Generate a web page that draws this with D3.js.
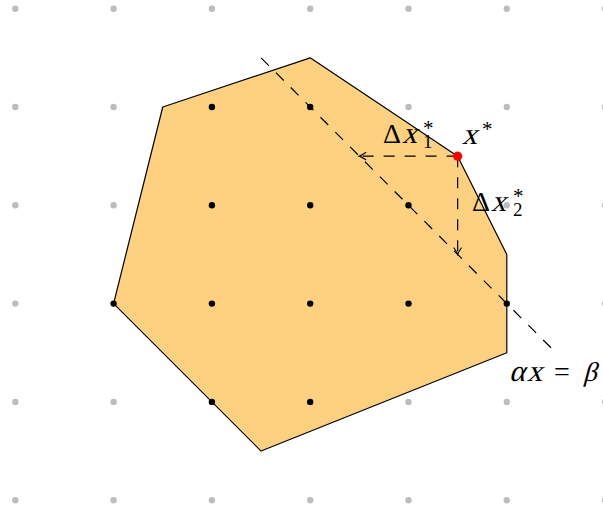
<!DOCTYPE html>
<html>
<head>
<meta charset="utf-8">
<script src="https://cdn.jsdelivr.net/npm/d3@7"></script>
<style>
  body { margin: 0; background: #fff; }
</style>
</head>
<body>
<div id="grafico"></div>
<script>
// Dados do desenho (em unidades da grade)
const gradeX = [0, 1, 2, 3, 4, 5, 6]
const gradeY = [0, 1, 2, 3, 4, 5]

// Vértices do poliedro
const poligonoX = [1.5, 3, 4.5, 5, 5, 2.5, 1]
const poligonoY = [4, 4.5, 3.5, 2.5, 1.5, 0.5, 2]

// Pontos inteiros dentro do poliedro
const inteirosX = [2, 3, 2, 3, 4, 1, 2, 3, 4, 5, 2, 3]
const inteirosY = [4, 4, 3, 3, 3, 2, 2, 2, 2, 2, 1, 1]

// Ótimo x* e reta alpha x = beta
const otimo = [4.5, 3.5]
const retaX = [2.5, 5.5]
const retaY = [4.5, 1.5]

// Setas delta x1 e delta x2
const seta1 = [[4.5, 3.5], [3.5, 3.5]]
const seta2 = [[4.5, 3.5], [4.5, 2.5]]

const width = 603, height = 510
const fonte = 'Liberation Serif'

const svg = d3.select('#grafico').append('svg')
    .attr('width', width)
    .attr('height', height)

// Escalas: uma unidade ~ 98.3 px
const x = d3.scaleLinear().domain([0, 6]).range([15.3, 15.3 + 6 * 98.3])
const y = d3.scaleLinear().domain([0, 5]).range([500.2, 8.7])

// Ponta de seta estilo "to" do TikZ
svg.append('defs').append('marker')
    .attr('id', 'ponta')
    .attr('viewBox', '-8 -5 10 10')
    .attr('refX', 0).attr('refY', 0)
    .attr('markerWidth', 10).attr('markerHeight', 10)
    .attr('markerUnits', 'userSpaceOnUse')
    .attr('orient', 'auto')
    .append('path')
    .attr('d', 'M-6.5,-3.6 Q-2,-0.6 0,0 Q-2,0.6 -6.5,3.6')
    .attr('fill', 'none')
    .attr('stroke', '#000')
    .attr('stroke-width', 1.1)
    .attr('stroke-linecap', 'round')

// Pontos cinzas da grade (os que não são inteiros viáveis)
const grade = []
gradeX.forEach(gx => gradeY.forEach(gy => {
    const viavel = inteirosX.some((ix, i) => ix === gx && inteirosY[i] === gy)
    if (!viavel) grade.push([gx, gy])
}))

svg.append('g').selectAll('circle')
    .data(grade)
    .join('circle')
    .attr('cx', d => x(d[0]))
    .attr('cy', d => y(d[1]))
    .attr('r', 3.2)
    .attr('fill', '#bdbdbd')

// Poliedro
const vertices = poligonoX.map((px, i) => [x(px), y(poligonoY[i])])
svg.append('path')
    .attr('d', d3.line()(vertices) + 'Z')
    .attr('fill', '#fdd17f')
    .attr('stroke', '#000')
    .attr('stroke-width', 1.2)
    .attr('stroke-linejoin', 'round')

// Reta tracejada
svg.append('line')
    .attr('x1', x(retaX[0])).attr('y1', y(retaY[0]))
    .attr('x2', x(retaX[1])).attr('y2', y(retaY[1]))
    .attr('stroke', '#000')
    .attr('stroke-width', 1.2)
    .attr('stroke-dasharray', '11,10')

// Setas tracejadas
;[seta1, seta2].forEach(s => {
    svg.append('line')
        .attr('x1', x(s[0][0])).attr('y1', y(s[0][1]))
        .attr('x2', x(s[1][0])).attr('y2', y(s[1][1]))
        .attr('stroke', '#000')
        .attr('stroke-width', 1.2)
        .attr('stroke-dasharray', '11,10')
        .attr('marker-end', 'url(#ponta)')
})

// Pontos inteiros
svg.append('g').selectAll('circle')
    .data(inteirosX)
    .join('circle')
    .attr('cx', d => x(d))
    .attr('cy', (d, i) => y(inteirosY[i]))
    .attr('r', 3.2)
    .attr('fill', '#000')

// Ponto ótimo
svg.append('circle')
    .attr('cx', x(otimo[0]))
    .attr('cy', y(otimo[1]))
    .attr('r', 4.6)
    .attr('fill', '#ff0000')

// Rótulos: cada pedaço posicionado à mão
// (itálico feito com skew, pois a fonte serifada itálica não existe aqui)
function texto(px, py, txt, tam, italico) {
    svg.append('text')
        .attr('transform', `translate(${px},${py})` + (italico ? ' skewX(-15)' : ''))
        .attr('font-family', fonte)
        .attr('font-size', tam)
        .attr('fill', '#000')
        .text(txt)
}

// Estrela em cima e índice embaixo, num só texto
function indices(px, py, sub) {
    const t = svg.append('text')
        .attr('transform', `translate(${px},${py})`)
        .attr('font-family', fonte)
        .attr('fill', '#000')
    t.append('tspan').attr('x', 0).attr('y', -8).attr('font-size', 21).text('*')
    if (sub) t.append('tspan').attr('x', 0).attr('y', 5).attr('font-size', 19).text(sub)
}

// Delta x1*
texto(383, 143, 'Δ', 28, false)
texto(402, 143, 'x', 30, true)
indices(423, 143, '1')

// x*
texto(462, 144, 'x', 30, true)
indices(482, 144, null)

// Delta x2*
texto(472, 211, 'Δ', 28, false)
texto(491, 211, 'x', 30, true)
indices(513, 211, '2')

// alpha x = beta
texto(509, 381, 'α', 30, true)
texto(527, 381, 'x', 30, true)
texto(554, 381, '=', 28, false)
texto(583, 381, 'β', 27, true)
</script>
</body>
</html>
